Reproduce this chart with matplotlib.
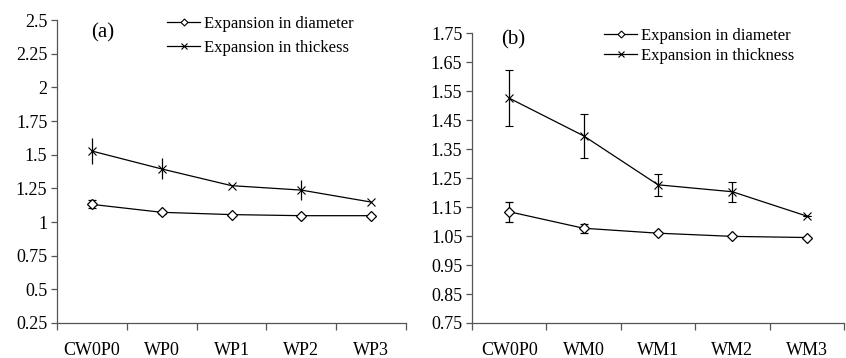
import matplotlib
matplotlib.use("Agg")
import matplotlib.pyplot as plt
from matplotlib.lines import Line2D
import numpy as np

plt.rcParams['font.family'] = ['Liberation Serif', 'DejaVu Serif']

cats_a = ["CW0P0", "WP0", "WP1", "WP2", "WP3"]
diam_a = [1.131, 1.072, 1.055, 1.047, 1.047]
diam_a_err = [0.03, 0.01, 0.0, 0.0, 0.0]
thick_a = [1.527, 1.394, 1.27, 1.237, 1.148]
thick_a_err = [0.094, 0.078, 0.0, 0.072, 0.0]
yticks_a = [0.25, 0.5, 0.75, 1.0, 1.25, 1.5, 1.75, 2.0, 2.25, 2.5]
ylabels_a = ["0.25", "0.5", "0.75", "1", "1.25", "1.5", "1.75", "2", "2.25", "2.5"]

cats_b = ["CW0P0", "WM0", "WM1", "WM2", "WM3"]
diam_b = [1.134, 1.077, 1.060, 1.049, 1.045]
diam_b_err = [0.035, 0.016, 0.0, 0.0, 0.0]
thick_b = [1.526, 1.396, 1.227, 1.203, 1.119]
thick_b_err = [0.096, 0.077, 0.039, 0.034, 0.0]
yticks_b = [0.75, 0.85, 0.95, 1.05, 1.15, 1.25, 1.35, 1.45, 1.55, 1.65, 1.75]
ylabels_b = ["0.75", "0.85", "0.95", "1.05", "1.15", "1.25", "1.35", "1.45", "1.55", "1.65", "1.75"]

fig = plt.figure(figsize=(8.46, 3.58), dpi=100)
ax_a = fig.add_axes([0.0674, 0.0978, 0.4126, 0.8462])
ax_b = fig.add_axes([0.558, 0.0978, 0.4396, 0.8092])

spine_c = "#555555"

def draw(ax, cats, diam, derr, thick, terr, yt, yl, ylim, label, lpos, tlabel, tcap,
         legpos, lspace):
    x = np.arange(len(cats))
    ax.errorbar(x, diam, yerr=derr, color="black", lw=0.9, marker="D", ms=4.8,
                mfc="white", mec="black", mew=0.9, capsize=3, elinewidth=0.9)
    ax.errorbar(x, thick, yerr=terr, color="black", lw=0.9, marker="x", ms=6.2,
                mew=0.8, capsize=tcap, elinewidth=0.9)
    ax.set_xlim(-0.5, len(cats) - 0.5)
    ax.set_ylim(*ylim)
    ax.set_yticks(yt)
    ax.set_yticklabels(yl, fontsize=13)
    ax.set_xticks(x)
    ax.set_xticklabels(cats, fontsize=13)
    ax.set_xticks(np.arange(len(cats) + 1) - 0.5, minor=True)
    ax.tick_params(axis='x', which='major', length=0, pad=14)
    ax.tick_params(axis='x', which='minor', length=5, color=spine_c, width=0.9)
    ax.tick_params(axis='y', length=4, color=spine_c, width=0.9, pad=3)
    for s in ("top", "right"):
        ax.spines[s].set_visible(False)
    for s in ("left", "bottom"):
        ax.spines[s].set_color(spine_c)
        ax.spines[s].set_linewidth(0.9)
    ax.text(lpos[0], lpos[1], label, transform=ax.transAxes, fontsize=15,
            va="center", ha="center")
    handles = [
        Line2D([], [], color="black", lw=0.9, marker="D", ms=3.5, mfc="white",
               mec="black", mew=0.8),
        Line2D([], [], color="black", lw=0.9, marker="x", ms=5, mew=0.8),
    ]
    ax.legend(handles, ["Expansion in diameter", tlabel], loc="upper left",
              bbox_to_anchor=legpos, frameon=False, fontsize=12,
              handlelength=2.0, handletextpad=0.2, labelspacing=lspace,
              borderaxespad=0, borderpad=0)

draw(ax_a, cats_a, diam_a, diam_a_err, thick_a, thick_a_err, yticks_a, ylabels_a,
     (0.25, 2.5), "(a)", (0.13, 0.957), "Expansion in thickess", 0,
     (0.315, 1.015), 0.5)
draw(ax_b, cats_b, diam_b, diam_b_err, thick_b, thick_b_err, yticks_b, ylabels_b,
     (0.75, 1.75), "(b)", (0.11, 0.977), "Expansion in thickness", 3,
     (0.355, 1.02), 0.26)

fig.savefig("out.png", dpi=100)
